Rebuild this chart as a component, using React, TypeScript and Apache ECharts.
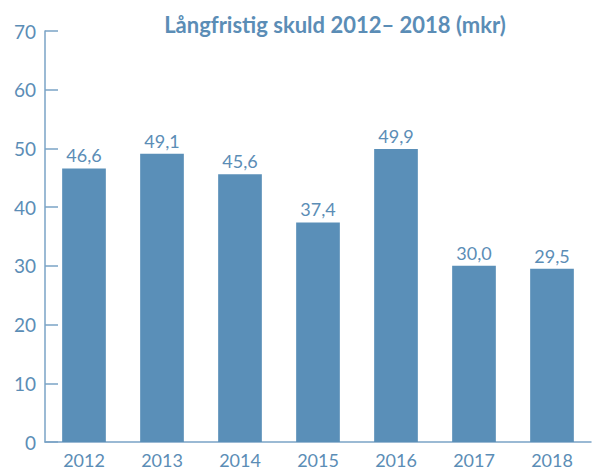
import React, { useEffect, useRef } from "react";
import * as echarts from "echarts";

const categories = ["2012", "2013", "2014", "2015", "2016", "2017", "2018"];
const values = [46.6, 49.1, 45.6, 37.4, 49.9, 30.0, 29.5];
const yTicks = [0, 10, 20, 30, 40, 50, 60, 70];

const BLUE = "#5a8fb8";
const TEXT = "#5b8db6";
const FONT = "Lato, 'Open Sans', sans-serif";

export default function App() {
  const ref = useRef<HTMLDivElement>(null);
  useEffect(() => {
    const chart = echarts.init(ref.current!, undefined, { renderer: "svg" });
    chart.setOption({
      animation: false,
      title: {
        text: "Långfristig skuld 2012– 2018 (mkr)",
        left: 330,
        textAlign: "center",
        top: 8,
        textStyle: { color: TEXT, fontSize: 22, fontWeight: "bold", fontFamily: FONT },
      },
      grid: { left: 45, right: 1, top: 31, bottom: 29, containLabel: false },
      xAxis: {
        type: "category",
        data: categories,
        axisLine: { lineStyle: { color: "#7aa3c6", width: 1.5 } },
        axisTick: { inside: true, length: 10, lineStyle: { color: "#7aa3c6", width: 1.5 } },
        axisLabel: { color: TEXT, fontSize: 18, fontFamily: FONT, margin: 9 },
      },
      yAxis: {
        type: "value",
        min: yTicks[0],
        max: yTicks[yTicks.length - 1],
        interval: 10,
        axisLine: { show: true, lineStyle: { color: "#7aa3c6", width: 1.5 } },
        axisTick: { show: true, inside: true, length: 13, lineStyle: { color: "#7aa3c6", width: 1.5 } },
        splitLine: { show: false },
        axisLabel: { color: TEXT, fontSize: 19, fontFamily: FONT, margin: 9 },
      },
      series: [
        {
          type: "bar",
          data: values,
          barWidth: "56%",
          itemStyle: { color: BLUE },
          label: {
            show: true,
            position: "top",
            distance: 4,
            color: TEXT,
            fontSize: 18,
            fontFamily: FONT,
            formatter: (p: any) => p.value.toFixed(1).replace(".", ","),
          },
        },
      ],
    });
    return () => chart.dispose();
  }, []);
  return <div ref={ref} style={{ width: 592, height: 471, position: "absolute", left: 0, top: 0 }} />;
}
